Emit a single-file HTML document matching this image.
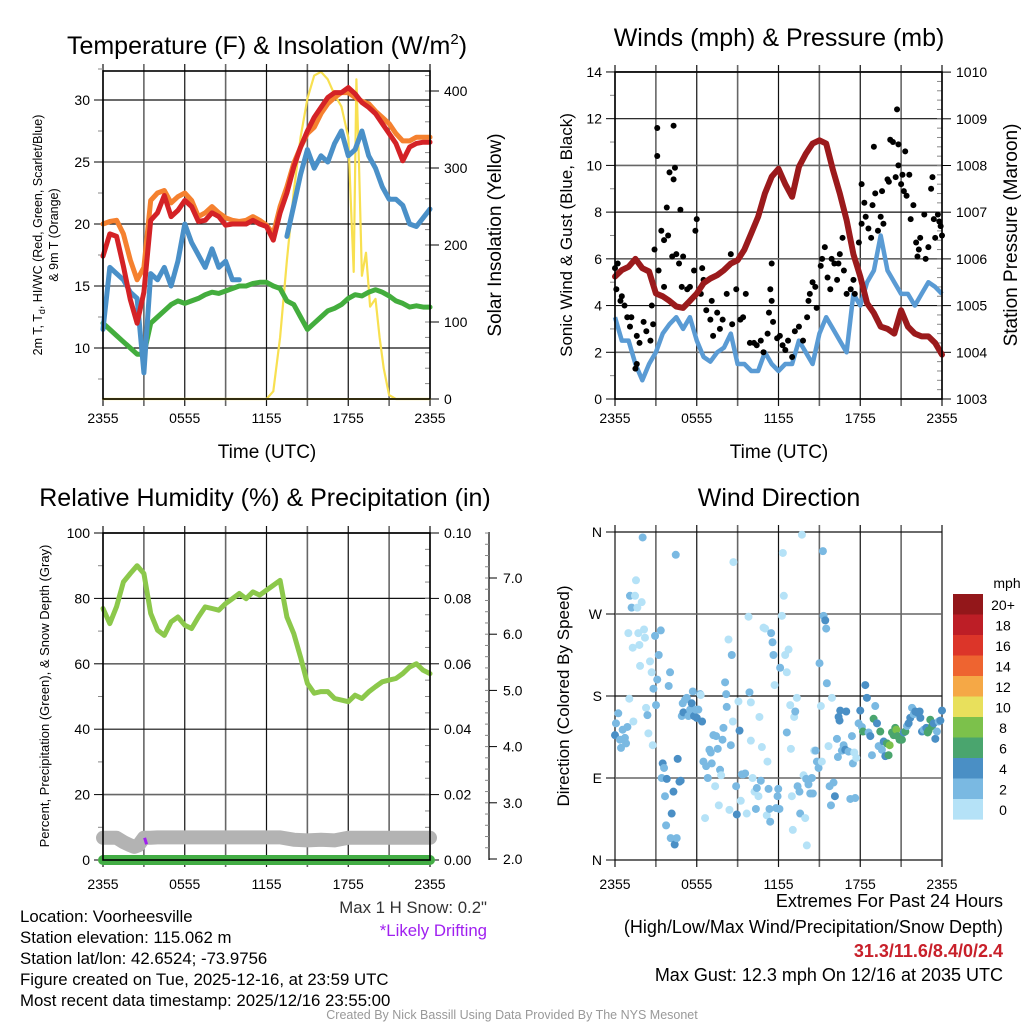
<!DOCTYPE html>
<html><head><meta charset="utf-8"><style>
html,body{margin:0;padding:0;background:#fff}
svg{display:block;font-family:"Liberation Sans",Arial,sans-serif}
</style></head><body>
<svg id="chart" width="1024" height="1024" viewBox="0 0 1024 1024" xmlns="http://www.w3.org/2000/svg">
<rect width="1024" height="1024" fill="#fff"/>
<g id="layer"></g>
<text x="267" y="54" font-size="25" text-anchor="middle">Temperature (F) &amp; Insolation (W/m<tspan dy="-10" font-size="15">2</tspan><tspan dy="10">)</tspan></text>
<text x="779" y="46" font-size="25" text-anchor="middle">Winds (mph) &amp; Pressure (mb)</text>
<text x="265" y="506" font-size="25" text-anchor="middle">Relative Humidity (%) &amp; Precipitation (in)</text>
<text x="779" y="506" font-size="25" text-anchor="middle">Wind Direction</text>
<text x="267" y="458" font-size="19" text-anchor="middle">Time (UTC)</text>
<text x="779" y="458" font-size="19" text-anchor="middle">Time (UTC)</text>
<text transform="translate(42,235) rotate(-90)" font-size="12.5" text-anchor="middle">2m T, T<tspan font-size="9" dy="3">d</tspan><tspan dy="-3">, HI/WC (Red, Green, Scarlet/Blue)</tspan></text>
<text transform="translate(58,235) rotate(-90)" font-size="12.5" text-anchor="middle">&amp; 9m T (Orange)</text>
<text transform="translate(501,235) rotate(-90)" font-size="19" text-anchor="middle">Solar Insolation (Yellow)</text>
<text transform="translate(572,235) rotate(-90)" font-size="17" text-anchor="middle">Sonic Wind &amp; Gust (Blue, Black)</text>
<text transform="translate(1017,235) rotate(-90)" font-size="19" text-anchor="middle">Station Pressure (Maroon)</text>
<text transform="translate(49,696) rotate(-90)" font-size="13" text-anchor="middle">Percent, Precipitation (Green), &amp; Snow Depth (Gray)</text>
<text transform="translate(569,696) rotate(-90)" font-size="17" text-anchor="middle">Direction (Colored By Speed)</text>
<text x="1007" y="588" font-size="14" text-anchor="middle">mph</text>
<g font-size="16.8">
<text x="20" y="922">Location: Voorheesville</text>
<text x="20" y="943">Station elevation: 115.062 m</text>
<text x="20" y="964">Station lat/lon: 42.6524; -73.9756</text>
<text x="20" y="985">Figure created on Tue, 2025-12-16, at 23:59 UTC</text>
<text x="20" y="1006">Most recent data timestamp: 2025/12/16 23:55:00</text>
<text x="487" y="913" text-anchor="end" fill="#333">Max 1 H Snow: 0.2"</text>
<text x="487" y="936" text-anchor="end" fill="#a020f0">*Likely Drifting</text>
</g>
<g font-size="18">
<text x="1003" y="907" text-anchor="end">Extremes For Past 24 Hours</text>
<text x="1003" y="933" text-anchor="end">(High/Low/Max Wind/Precipitation/Snow Depth)</text>
<text x="1003" y="957" text-anchor="end" fill="#c8202a" font-weight="bold">31.3/11.6/8.4/0/2.4</text>
<text x="1003" y="981" text-anchor="end">Max Gust: 12.3 mph On 12/16 at 2035 UTC</text>
</g>
<text x="512" y="1019" font-size="12.5" text-anchor="middle" fill="#999">Created By Nick Bassill Using Data Provided By The NYS Mesonet</text>
</svg>
<script>
const halfHours = [0,0.5,1,1.5,2,2.5,3,3.5,4,4.5,5,5.5,6,6.5,7,7.5,8,8.5,9,9.5,10,10.5,11,11.5,12,12.5,13,13.5,14,14.5,15,15.5,16,16.5,17,17.5,18,18.5,19,19.5,20,20.5,21,21.5,22,22.5,23,23.5,24];
const timeLabels = ["2355","0555","1155","1755","2355"];
const tempRed = [17.4,19.2,19.0,16.6,13.9,12.0,14.5,20.3,20.9,22.3,20.6,21.1,21.9,21.4,20.2,20.3,20.9,20.6,19.9,20.0,20.0,20.0,20.3,20.0,19.8,18.7,20.9,22.5,24.6,26.2,27.5,28.6,29.4,30.2,30.6,30.6,31.0,30.5,29.8,29.4,28.9,28.1,27.3,26.5,25.1,26.2,26.5,26.6,26.6];
const temp9m = [20.0,20.2,20.3,19.2,17.1,15.5,16.5,21.9,22.5,22.7,21.7,22.2,22.5,21.9,20.6,20.9,21.4,20.9,20.5,20.3,20.2,20.3,20.6,20.3,19.9,19.2,21.4,23.0,24.9,26.2,27.3,27.8,28.9,29.7,30.2,30.6,30.6,30.2,29.9,29.7,29.1,28.6,28.1,27.3,26.7,26.7,27.0,27.0,27.0];
const tempWC = [11.5,16.5,16.0,15.5,14.5,14.0,8.0,16.0,15.5,16.5,15.0,17.0,20.0,18.5,17.5,16.5,18.0,16.5,17.0,15.5,15.5,null,null,17.5,null,18.5,null,19.0,21.5,24.0,26.0,24.5,25.5,25.0,26.5,27.5,25.5,26.0,27.5,25.5,24.5,23.0,22.0,22.0,21.5,20.0,19.8,20.5,21.2];
const dewPt = [12,11.5,11,10.5,10,9.5,9.5,12,12.5,13,13.5,13.8,13.6,13.8,14,14.3,14.5,14.4,14.6,14.8,15,15,15.2,15.3,15.3,15,14.8,13.8,13.5,12.5,11.5,12,12.5,13,13.2,13.5,14,14.3,14.2,14.5,14.7,14.5,14.2,13.8,13.6,13.3,13.4,13.3,13.3];
const solarT = [0,12,12.5,13,13.5,14,14.5,15,15.5,16,16.5,17,17.5,18,18.2,18.4,18.6,18.8,19,19.3,19.6,20,20.3,20.6,21,21.5,24];
const solarV = [0,0,10,80,180,270,340,390,420,425,415,395,380,340,250,165,415,300,160,190,120,130,80,40,5,0,0];
const pressure = [1005.62,1005.76,1005.83,1006.0,1005.8,1005.73,1005.26,1005.2,1005.1,1004.98,1004.95,1005.1,1005.26,1005.48,1005.58,1005.65,1005.76,1005.9,1005.97,1006.2,1006.55,1006.9,1007.4,1007.76,1007.93,1007.6,1007.33,1007.97,1008.25,1008.47,1008.54,1008.47,1007.9,1007.4,1006.83,1006.1,1005.62,1005.05,1004.84,1004.55,1004.5,1004.4,1004.9,1004.55,1004.4,1004.34,1004.34,1004.2,1003.95];
const windSpd = [3.5,2.5,2.5,1.5,0.8,1.5,2,2.8,3.2,3.5,3,3.5,2.5,1.8,1.6,2,2.2,2.8,1.5,1.5,1.2,1.2,2,1.5,1.2,1.5,1.5,2.5,2,1.5,2.8,3.5,3,2.5,2,4.5,4,5,5.5,7,5.5,5,4.5,4.5,4,4.5,5,4.8,4.5];
const gustT = [0,0.1,0.2,0.4,0.5,0.7,0.9,1.1,1.2,1.6,1.8,1.6,1.5,2.1,2.3,2.6,2.7,2.8,2.9,3.1,3.1,3.2,3.4,3.6,3.6,3.8,3.9,4,4.2,4.3,4.3,4.4,4.5,4.7,4.8,4.9,5,5.3,5.5,5.8,5.9,6,6.3,6.4,6.5,6.7,7,7.1,7.2,7.5,7.7,7.9,8.2,8.5,8.6,8.9,9.2,9.4,9.6,9.9,10.2,10.4,10.7,10.9,11.2,11.3,11.4,11.5,11.5,11.6,11.9,12.1,12.3,12.5,12.7,13,13.2,13.5,13.8,14.1,14.2,14.3,14.5,14.7,14.8,15.1,15.2,15.4,15.6,15.8,15.9,16.1,16.3,16.4,16.5,16.7,16.8,17,17.3,17.5,17.6,17.9,18.1,18.1,18.3,18.4,18.6,18.8,18.9,19,19.1,19.3,19.5,19.6,19.7,20,20.1,20.2,20.4,20.6,20.7,20.8,20.8,21,21.1,21.2,21.3,21.4,21.6,21.7,21.9,22.1,22.2,22.3,22.4,22.7,22.8,23,23.2,23.3,23.4,23.5,23.7,23.8,23.9,24];
const gustV = [5.6,4.7,5.8,4.2,4.4,4,3.5,3.1,3.5,2.7,2.4,1.5,1.3,3.3,2.9,2.5,4.0,3.2,6.4,11.6,10.4,5.5,7.2,6.8,4.8,8.2,7,9.7,6.1,9.4,11.7,9.9,6.2,5.8,8.1,4.8,6.1,4.7,4.8,5.5,7.2,7.7,4.5,5.6,5.1,3.8,3.4,4.2,2.7,3.7,3.0,3.4,4.5,6.2,3.2,4.7,3.4,3.5,4.5,2.4,2.4,2.3,2.5,2.0,2.8,3.7,4.7,5.8,4.2,3.3,2.6,2.7,2.3,2.1,2.5,1.8,2.9,3.1,2.5,3.5,4.2,4.5,5,4.8,3.9,5.7,6,6.5,5.2,4.7,6,5.8,5.1,5.8,6.2,6.9,5.5,4.5,4.7,5.1,4.5,6.7,7.5,9.2,8.4,7.8,7.3,6.9,8.3,10.8,8.8,7.2,7.8,8.9,7.5,9.4,9.3,11.1,11,9.5,12.4,10.9,10,9.2,9.6,8.9,10.6,8.7,9.6,7.7,8.3,6.7,6.1,6.4,6.9,7.9,6,6.5,9.0,9.5,7.7,6.9,7.9,7.6,7.4,7];
const rhVals = [76.9,72.3,77.5,85,87.6,90,87.6,75.4,70.3,68.7,72.8,74.3,71.8,70.8,74.3,77.4,76.9,76.4,78.4,79.9,81.5,79.9,82,81,82.5,84,85.5,74.3,69.2,62,54,51,51.5,51.5,49.4,48.9,48.4,50.4,49.4,51.4,53,54.5,55,55.5,57,59,60,58,57];
const snowT = [0,1,1.5,2,2.3,2.6,3,3.5,4,13,14,15,16,17,18,24];
const snowV = [6.8,6.8,5.5,4.5,4.0,4.5,6.8,6.8,6.9,6.9,6.2,6.0,6.2,6.0,6.8,6.8];
const precipVals = [0,0];
const dirT = [0,0.07,0.24,0.37,0.44,0.56,0.73,0.81,0.91,1.05,1.1,1.22,1.35,1.47,1.54,1.64,0.98,1.3,1.71,1.79,1.84,1.96,2.03,2.13,2.2,2.28,2.38,2.45,2.57,2.69,2.77,2.82,2.94,3.01,3.1,3.21,3.36,3.43,3.5,3.6,3.67,3.75,3.8,3.94,4.04,4.09,4.16,4.29,4.38,4.46,4.53,4.6,4.73,4.82,4.9,4.97,5.02,5.14,5.27,5.39,5.51,5.63,5.71,5.8,5.93,6,6.12,6.25,6.29,6.39,6.49,6.61,6.69,6.81,6.93,7.03,7.1,7.22,7.35,7.42,7.54,7.62,7.71,7.79,7.89,7.96,8.08,8.16,8.2,8.33,8.4,8.5,8.57,8.65,8.69,8.89,8.94,9.06,9.14,9.23,9.31,9.43,9.55,9.67,9.8,9.87,9.97,9.97,10.1,10.24,10.34,10.41,10.53,10.6,10.7,10.78,10.9,11.02,11.14,11.19,11.27,11.34,11.39,11.46,11.56,11.63,11.71,11.83,11.93,11.98,12.07,12.12,12.25,12.32,12.39,12.49,12.61,12.74,12.61,12.86,12.91,12.98,13.05,13.15,13.23,13.35,13.4,13.54,13.59,13.72,13.84,13.96,14.03,14.08,14.2,14.33,14.45,14.52,14.62,14.72,14.82,14.94,15.01,15.11,15.18,15.26,15.31,15.43,15.5,15.55,15.67,15.75,15.85,15.92,16.04,16.14,16.29,16.36,16.41,16.48,16.53,16.65,16.78,16.9,16.97,17.14,17.27,17.39,17.46,17.56,17.63,17.71,17.88,18,18.12,18.2,18.37,18.49,18.61,18.74,18.86,18.98,19.1,19.23,19.35,19.47,19.59,19.72,19.84,19.96,20.08,20.16,20.33,20.45,20.57,20.65,20.74,20.89,21.06,21.19,21.31,21.43,21.55,21.67,21.8,21.92,22.04,22.17,22.36,22.41,22.53,22.66,22.85,22.95,23.02,23.14,23.27,23.39,23.51,23.63,23.76,23.88,24];
const dirDeg = [137,150,161,132,123,143,134,128,146,177,290,277,152,290,307,277,249,233,249,236,213,283,354,253,244,167,159,139,218,206,126,188,246,170,198,225,252,90,106,101,70,38,89,191,206,24,51,75,17,335,24,111,86,87,158,172,162,176,178,158,165,172,185,158,165,156,165,182,181,152,108,46,103,90,121,118,106,137,81,136,122,60,99,93,132,145,195,182,168,242,55,126,225,152,327,81,50,174,142,65,94,94,95,51,267,184,173,131,90,75,56,79,70,157,87,124,255,254,49,108,78,56,42,249,239,225,192,57,70,78,56,211,268,337,290,225,206,231,140,170,122,70,33,157,163,178,81,75,51,357,93,46,89,16,83,73,90,73,120,120,108,101,216,169,108,339,268,263,254,194,125,81,60,178,85,70,133,113,157,153,164,120,126,121,163,119,67,136,106,118,68,112,150,164,146,141,192,178,140,136,115,155,169,150,125,141,121,130,114,128,115,126,140,137,145,143,136,132,132,140,141,147,150,156,167,160,163,162,163,156,141,143,145,140,142,154,147,150,133,141,152,153,164];
const dirSpd = [5,3,3,3,3,3,3,3,3,1,3,3,1,1,1,1,1,1,1,1,1,1,3,1,1,1,3,1,1,1,1,3,3,3,3,3,3,3,5,3,3,3,5,3,3,3,5,5,5,3,3,5,5,5,3,3,5,3,3,3,3,5,3,5,3,5,3,3,1,5,3,1,3,3,3,3,3,3,1,3,3,1,3,1,3,3,3,3,3,1,1,3,3,1,1,3,5,1,5,1,3,3,3,1,1,3,1,1,1,1,3,3,1,1,3,1,1,1,1,1,3,3,3,3,3,3,1,3,3,3,3,3,1,1,1,1,1,1,3,1,1,1,1,1,3,1,3,3,3,1,1,1,3,1,3,3,3,3,1,3,3,3,3,1,1,3,3,5,3,3,1,3,3,1,3,5,3,3,5,5,5,3,3,5,5,3,3,3,3,1,3,1,3,5,3,7,5,5,3,5,3,7,3,5,3,7,3,5,5,7,7,9,7,7,7,9,7,7,7,5,7,3,5,5,3,3,5,5,5,5,5,3,5,7,7,7,7,5,5,3,3,5,5];
const cbLabels = ["20+","18","16","14","12","10","8","6","4","2","0"];
const cbColors = ["#93171a","#bd1e26","#dc3529","#ee6430","#f5a846","#e8e05c","#7cc14b","#4aa56e","#4a8fc5","#7ab9e2","#b5e2f7"];

const NS="http://www.w3.org/2000/svg";
const layer=document.getElementById('layer');
function mk(tag,attrs,parent){const e=document.createElementNS(NS,tag);for(const k in attrs)e.setAttribute(k,attrs[k]);(parent||layer).appendChild(e);return e;}
function spdColor(s){const i=Math.min(10,Math.floor(s/2));return cbColors[10-i];}

function drawFrame(name,x0,x1,y0,y1,bot){
  const g=mk('g',{});
  
  
  for(let i=0;i<=8;i++){
    const x=x0+(x1-x0)*i/8;
    const l=mk('line',{x1:x,x2:x,y1:y0-7,y2:y1+7,stroke:i%2?'#666':'#111','stroke-width':i%2?1.6:1.2},g);
    
    
  }
  timeLabels.forEach((s,i)=>{
    const t=mk('text',{x:x0+(x1-x0)*i/4,y:bot,'font-size':14,'text-anchor':'middle'},g);
    t.textContent=s;
    
    
  });
  return g;
}
function yAxis(g,x0,x1,ticks,fy,labels,side,minor,gridOn){
  ticks.forEach((v,i)=>{
    const y=fy(v);
    if(gridOn){const l=mk('line',{x1:x0,x2:x1,y1:y,y2:y,stroke:i%2?'#666':'#111','stroke-width':i%2?1.6:1.2},g);
      
      }
    if(side==='L'){mk('line',{x1:x0-9,x2:x0,y1:y,y2:y,stroke:'#000'},g);
      const t=mk('text',{x:x0-13,y:y+5,'font-size':14,'text-anchor':'end'},g);t.textContent=labels[i];
      
      }
    else{mk('line',{x1:x1,x2:x1+9,y1:y,y2:y,stroke:'#000'},g);
      const t=mk('text',{x:x1+14,y:y+5,'font-size':14},g);t.textContent=labels[i];
      
      }
  });
  minor.forEach(v=>{const y=fy(v);
    if(side==='L')mk('line',{x1:x0-5,x2:x0,y1:y,y2:y,stroke:'#888'},g);
    else mk('line',{x1:x1-5,x2:x1,y1:y,y2:y,stroke:'#888'},g);});
}
function linePath(xs,ys,fx,fy){let d='',pen=false;
  for(let i=0;i<xs.length;i++){if(ys[i]===null||ys[i]===undefined){pen=false;continue;}
    d+=(pen?'L':'M')+fx(xs[i]).toFixed(1)+','+fy(ys[i]).toFixed(1);pen=true;}return d;}
function range(a,b,s){const r=[];for(let v=a;v<=b+1e-9;v+=s)r.push(+v.toFixed(4));return r;}

// ---- Panel 1: temperature ----
{const x0=103,x1=430,y0=71,y1=399;
 const fx=t=>x0+t/24*(x1-x0);
 const fT=v=>100+(30-v)*12.4;
 const fS=v=>399-v*0.77;
 const g=drawFrame('temp',x0,x1,y0,y1,423);
 yAxis(g,x0,x1,[10,15,20,25,30],fT,['10','15','20','25','30'],'L',[7.5,12.5,17.5,22.5,27.5,32.5],true);
 yAxis(g,x0,x1,[0,100,200,300,400],fS,['0','100','200','300','400'],'R',range(20,420,20),false);
 const series=[['solar-line',solarT,solarV,fS,'#f8e050',2.2],['dewpoint-line',halfHours,dewPt,fT,'#43ad3d',5],['windchill-line',halfHours,tempWC,fT,'#4a90c8',5],['temp9m-line',halfHours,temp9m,fT,'#f5812f',5],['temp2m-line',halfHours,tempRed,fT,'#d42226',5]];
 series.forEach(s=>{const p=mk('path',{d:linePath(s[1],s[2],fx,s[3]),fill:'none',stroke:s[4],'stroke-width':s[5],'stroke-linejoin':'round','stroke-linecap':'round'});
   
   });
 mk('line',{x1:x0,x2:x1,y1:y1,y2:y1,stroke:'#f8e050','stroke-width':2});
 mk('rect',{x:x0,y:y0,width:x1-x0,height:y1-y0,fill:'none',stroke:'#000','stroke-width':1.6});
}
// ---- Panel 2: wind ----
{const x0=615,x1=942,y0=72,y1=399;
 const fx=t=>x0+t/24*(x1-x0);
 const fW=v=>399-v*23.36;
 const fP=p=>399-(p-1003)*46.7;
 const g=drawFrame('wind',x0,x1,y0,y1,423);
 yAxis(g,x0,x1,[0,2,4,6,8,10,12,14],fW,['0','2','4','6','8','10','12','14'],'L',range(1,13,2),true);
 yAxis(g,x0,x1,range(1003,1010,1),fP,['1003','1004','1005','1006','1007','1008','1009','1010'],'R',range(1003.2,1009.8,0.2),false);
 const w=mk('path',{d:linePath(halfHours,windSpd,fx,fW),fill:'none',stroke:'#5a9bd4','stroke-width':4.5,'stroke-linejoin':'round'});
 
 
 gustT.forEach((t,i)=>{const c=mk('circle',{cx:fx(t),cy:fW(gustV[i]),r:3,fill:'#000'});
   
   });
 const p=mk('path',{d:linePath(halfHours,pressure,fx,fP),fill:'none',stroke:'#9b1a1c','stroke-width':6,'stroke-linejoin':'round','stroke-linecap':'round'});
 
 
 mk('rect',{x:x0,y:y0,width:x1-x0,height:y1-y0,fill:'none',stroke:'#000','stroke-width':1.6});
}
// ---- Panel 3: RH ----
{const x0=103,x1=430,y0=533,y1=860;
 const fx=t=>x0+t/24*(x1-x0);
 const fR=v=>860-v*3.27;
 const fPr=v=>860-v*3270;
 const g=drawFrame('rh',x0,x1,y0,y1,889);
 yAxis(g,x0,x1,[0,20,40,60,80,100],fR,['0','20','40','60','80','100'],'L',range(10,90,20),true);
 yAxis(g,x0,x1,range(0,0.1,0.02),fPr,['0.00','0.02','0.04','0.06','0.08','0.10'],'R',range(0.005,0.095,0.005),false);
 const fD=v=>859-(v-2)*56.2;
 mk('line',{x1:489,x2:489,y1:532,y2:860,stroke:'#000','stroke-width':1.2});
 range(2,7,1).forEach(v=>{mk('line',{x1:489,x2:497,y1:fD(v),y2:fD(v),stroke:'#000'});
   const t=mk('text',{x:503,y:fD(v)+5,'font-size':14});t.textContent=v.toFixed(1);
   
   });
 range(2.2,7.8,0.2).forEach(v=>{if(fD(v)>533)mk('line',{x1:485,x2:489,y1:fD(v),y2:fD(v),stroke:'#888'});});
 const s=mk('path',{d:linePath(snowT,snowV,fx,fR),fill:'none',stroke:'#b3b3b3','stroke-width':14,'stroke-linejoin':'round','stroke-linecap':'round'});
 
 
 const pr=mk('path',{d:linePath([0,24],precipVals,fx,fPr),fill:'none',stroke:'#43ad45','stroke-width':10,'stroke-linecap':'round'});
 
 
 const dr=mk('path',{d:linePath([3.05,3.2],[6.8,4.8],fx,fR),fill:'none',stroke:'#a020f0','stroke-width':3});
 
 
 const r=mk('path',{d:linePath(halfHours,rhVals,fx,fR),fill:'none',stroke:'#8cc84b','stroke-width':5,'stroke-linejoin':'round','stroke-linecap':'round'});
 
 
 mk('rect',{x:x0,y:y0,width:x1-x0,height:y1-y0,fill:'none',stroke:'#000','stroke-width':1.6});
}
// ---- Panel 4: direction ----
{const x0=615,x1=942,y0=532,y1=860;
 const fx=t=>x0+t/24*(x1-x0);
 const fDg=d=>860-d*(328/360);
 const g=drawFrame('dir',x0,x1,y0,y1,889);
 yAxis(g,x0,x1,[0,90,180,270,360],fDg,['N','E','S','W','N'],'L',[],true);
 dirT.forEach((t,i)=>{const c=mk('circle',{cx:fx(t),cy:fDg(dirDeg[i]),r:4,fill:spdColor(dirSpd[i])});
   
   });
 cbColors.forEach((c,i)=>{const r=mk('rect',{x:953,y:594+i*20.5,width:30,height:20.6,fill:c});
   
   
   const t=mk('text',{x:1003,y:594+i*20.5+16,'font-size':14,'text-anchor':'middle'});t.textContent=cbLabels[i];
   
   });
}
</script>
</body></html>
